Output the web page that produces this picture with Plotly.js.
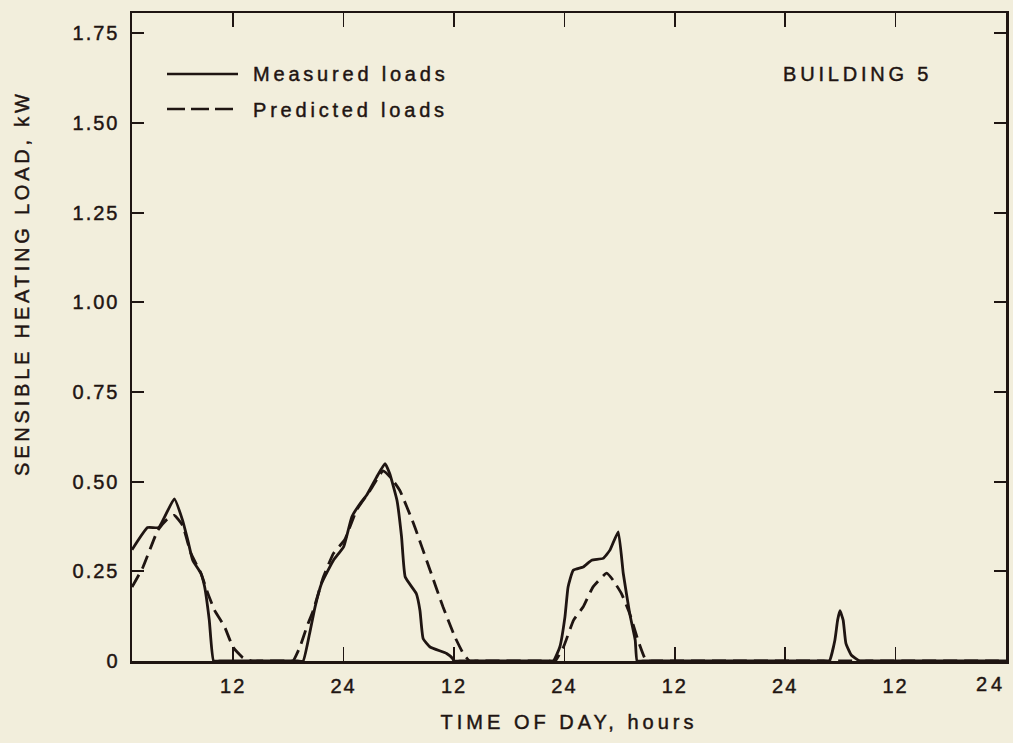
<!DOCTYPE html>
<html>
<head>
<meta charset="utf-8">
<script src="https://cdn.plot.ly/plotly-3.0.1.min.js"></script>
<style>
  html, body { margin: 0; padding: 0; background: #f2eedc; }
  #chart { width: 1013px; height: 743px; }
  .main-svg text { stroke: #1f1512; stroke-width: 0.45px; }
  .xtick text, .ytick text { letter-spacing: 2px; }
  text.xtitle { letter-spacing: 4px; }
  text.annotation-text { letter-spacing: 3.8px; }
</style>
</head>
<body>
<div id="chart"></div>
<script>
// Hourly sensible heating load, Building 5 (hours counted from the start of the record)
const measuredHours = [1, 2.7, 3.9, 5.6, 6.5, 7.07, 7.6, 8.5, 8.9, 9.4, 9.87, 10.5,
  19.0, 19.6, 20.3, 20.9, 21.6, 22.9, 24.0, 24.9, 25.8, 26.5, 27.6, 28.5, 29.0, 29.8, 30.3, 30.7, 31.9, 32.3, 32.65, 33.4, 35.2, 35.85, 36.0, 36.6,
  46.2, 46.8, 47.5, 48.06, 48.4, 48.96, 50.05, 50.96, 52.2, 52.95, 53.85, 54.4, 55.1, 55.7, 55.9, 56.5,
  76.2, 76.8, 77.4, 77.7, 77.95, 78.3, 78.6, 79.2, 80.1, 80.8, 95, 96];
const measuredLoad = [0.31, 0.372, 0.372, 0.452, 0.392, 0.336, 0.281, 0.244, 0.206, 0.114, 0, 0,
  0, 0, 0.076, 0.151, 0.216, 0.281, 0.318, 0.402, 0.439, 0.462, 0.513, 0.55, 0.523, 0.448, 0.346, 0.234, 0.188, 0.141, 0.062, 0.039, 0.021, 0.007, 0, 0,
  0, 0, 0.039, 0.123, 0.206, 0.253, 0.262, 0.281, 0.286, 0.309, 0.36, 0.244, 0.132, 0.058, 0, 0,
  0, 0, 0.058, 0.114, 0.14, 0.114, 0.049, 0.016, 0, 0, 0, 0];

const predictedHours = [1, 2.2, 3.8, 4.7, 5.6, 6.5, 7.4, 8.5, 9.25, 9.98, 11.07, 11.97, 13.05, 13.96, 14.6,
  17.9, 18.5, 19.25, 20.0, 20.7, 21.8, 22.9, 24.1, 25.4, 26.9, 28.3, 29.2, 30.1, 31.6, 33.4, 34.8, 36.1, 37.0, 37.7, 38.3,
  46.4, 47.0, 47.9, 49.0, 50.05, 51.1, 52.6, 53.3, 54.2, 55.1, 56.0, 56.9, 57.5, 95, 96];
const predictedLoad = [0.206, 0.262, 0.364, 0.392, 0.406, 0.378, 0.30, 0.244, 0.188, 0.141, 0.095, 0.039, 0.009, 0, 0,
  0, 0, 0.039, 0.095, 0.141, 0.234, 0.30, 0.337, 0.42, 0.476, 0.53, 0.509, 0.476, 0.383, 0.253, 0.151, 0.067, 0.021, 0, 0,
  0, 0, 0.039, 0.114, 0.151, 0.206, 0.245, 0.225, 0.188, 0.132, 0.058, 0, 0, 0, 0];

const xTickHours = [12, 24, 36, 48, 60, 72, 84, 96];
const xTickLabels = ['12', '24', '12', '24', '12', '24', '12', '24'];
const yTickValues = [0, 0.25, 0.5, 0.75, 1.0, 1.25, 1.5, 1.75];
const yTickLabels = ['0', '0.25', '0.50', '0.75', '1.00', '1.25', '1.50', '1.75'];

const ink = '#1f1512';
const paper = '#f2eedc';
const fontFamily = '"Liberation Sans", Arial, Helvetica, sans-serif';

const traces = [
  {
    x: measuredHours, y: measuredLoad, type: 'scatter', mode: 'lines',
    name: 'Measured loads',
    line: { color: ink, width: 2.8, shape: 'spline', smoothing: 0.4 }
  },
  {
    x: predictedHours, y: predictedLoad, type: 'scatter', mode: 'lines',
    name: 'Predicted loads',
    line: { color: ink, width: 2.8, dash: '14px,7px', shape: 'spline', smoothing: 0.4 }
  }
];

// key drawn by hand so the sample lines can be as long as the lettering wants
const M = { l: 132, r: 7, t: 13, b: 82 };
const plotW = 1013 - M.l - M.r, plotH = 743 - M.t - M.b;
const px = v => (v - M.l) / plotW;
const py = v => (743 - M.b - v) / plotH;

// the last hour label sits at the right-hand frame, so it is pulled in to stay on the page
const lastTick = xTickHours.length - 1;
const axisTickText = xTickLabels.map((t, i) => (i === lastTick ? '' : t));

const layout = {
  width: 1013, height: 743,
  margin: M,
  paper_bgcolor: paper, plot_bgcolor: paper,
  showlegend: false,
  font: { family: fontFamily, size: 20, color: ink },
  xaxis: {
    range: [1, 96],
    tickvals: xTickHours, ticktext: axisTickText,
    ticks: 'inside', ticklen: 14, tickwidth: 1.5, tickcolor: ink,
    showline: true, linewidth: 2.5, linecolor: ink, mirror: 'ticks',
    showgrid: false, zeroline: false,
    tickfont: { size: 20, color: ink },
    ticklabelstandoff: 5,
    title: { text: 'TIME OF DAY, hours', font: { size: 20, color: ink }, standoff: 20 }
  },
  yaxis: {
    range: [0, 1.806],
    tickvals: yTickValues, ticktext: yTickLabels,
    ticks: 'inside', ticklen: 12, tickwidth: 2, tickcolor: ink,
    showline: true, linewidth: 2.5, linecolor: ink, mirror: 'ticks',
    showgrid: false, zeroline: false,
    tickfont: { size: 20, color: ink },
    ticklabelstandoff: 6
  },
  shapes: [
    { type: 'line', xref: 'paper', yref: 'paper', x0: px(167), x1: px(238), y0: py(74), y1: py(74),
      line: { color: ink, width: 2.5 } },
    { type: 'line', xref: 'paper', yref: 'paper', x0: px(167), x1: px(238), y0: py(109), y1: py(109),
      line: { color: ink, width: 2.5, dash: '18px,6px' } }
  ],
  annotations: [
    { text: 'Measured loads', xref: 'paper', yref: 'paper', x: px(251), y: py(74),
      xanchor: 'left', yanchor: 'middle', showarrow: false, font: { size: 20, color: ink } },
    { text: 'Predicted loads', xref: 'paper', yref: 'paper', x: px(251), y: py(110),
      xanchor: 'left', yanchor: 'middle', showarrow: false, font: { size: 20, color: ink } },
    { text: 'BUILDING 5', xref: 'paper', yref: 'paper', x: px(934), y: py(74),
      xanchor: 'right', yanchor: 'middle', showarrow: false, font: { size: 20, color: ink } },
    { text: 'SENSIBLE HEATING LOAD, kW', xref: 'paper', yref: 'paper', x: px(22), y: py(283),
      xanchor: 'center', yanchor: 'middle', textangle: -90, showarrow: false,
      font: { size: 20, color: ink } },
    { text: xTickLabels[lastTick], xref: 'x', yref: 'paper', x: xTickHours[lastTick], y: 0,
      xanchor: 'right', yanchor: 'top', xshift: 2, yshift: -10, showarrow: false,
      font: { size: 20, color: ink } }
  ]
};

Plotly.newPlot('chart', traces, layout, { staticPlot: true, displayModeBar: false });
</script>
</body>
</html>
